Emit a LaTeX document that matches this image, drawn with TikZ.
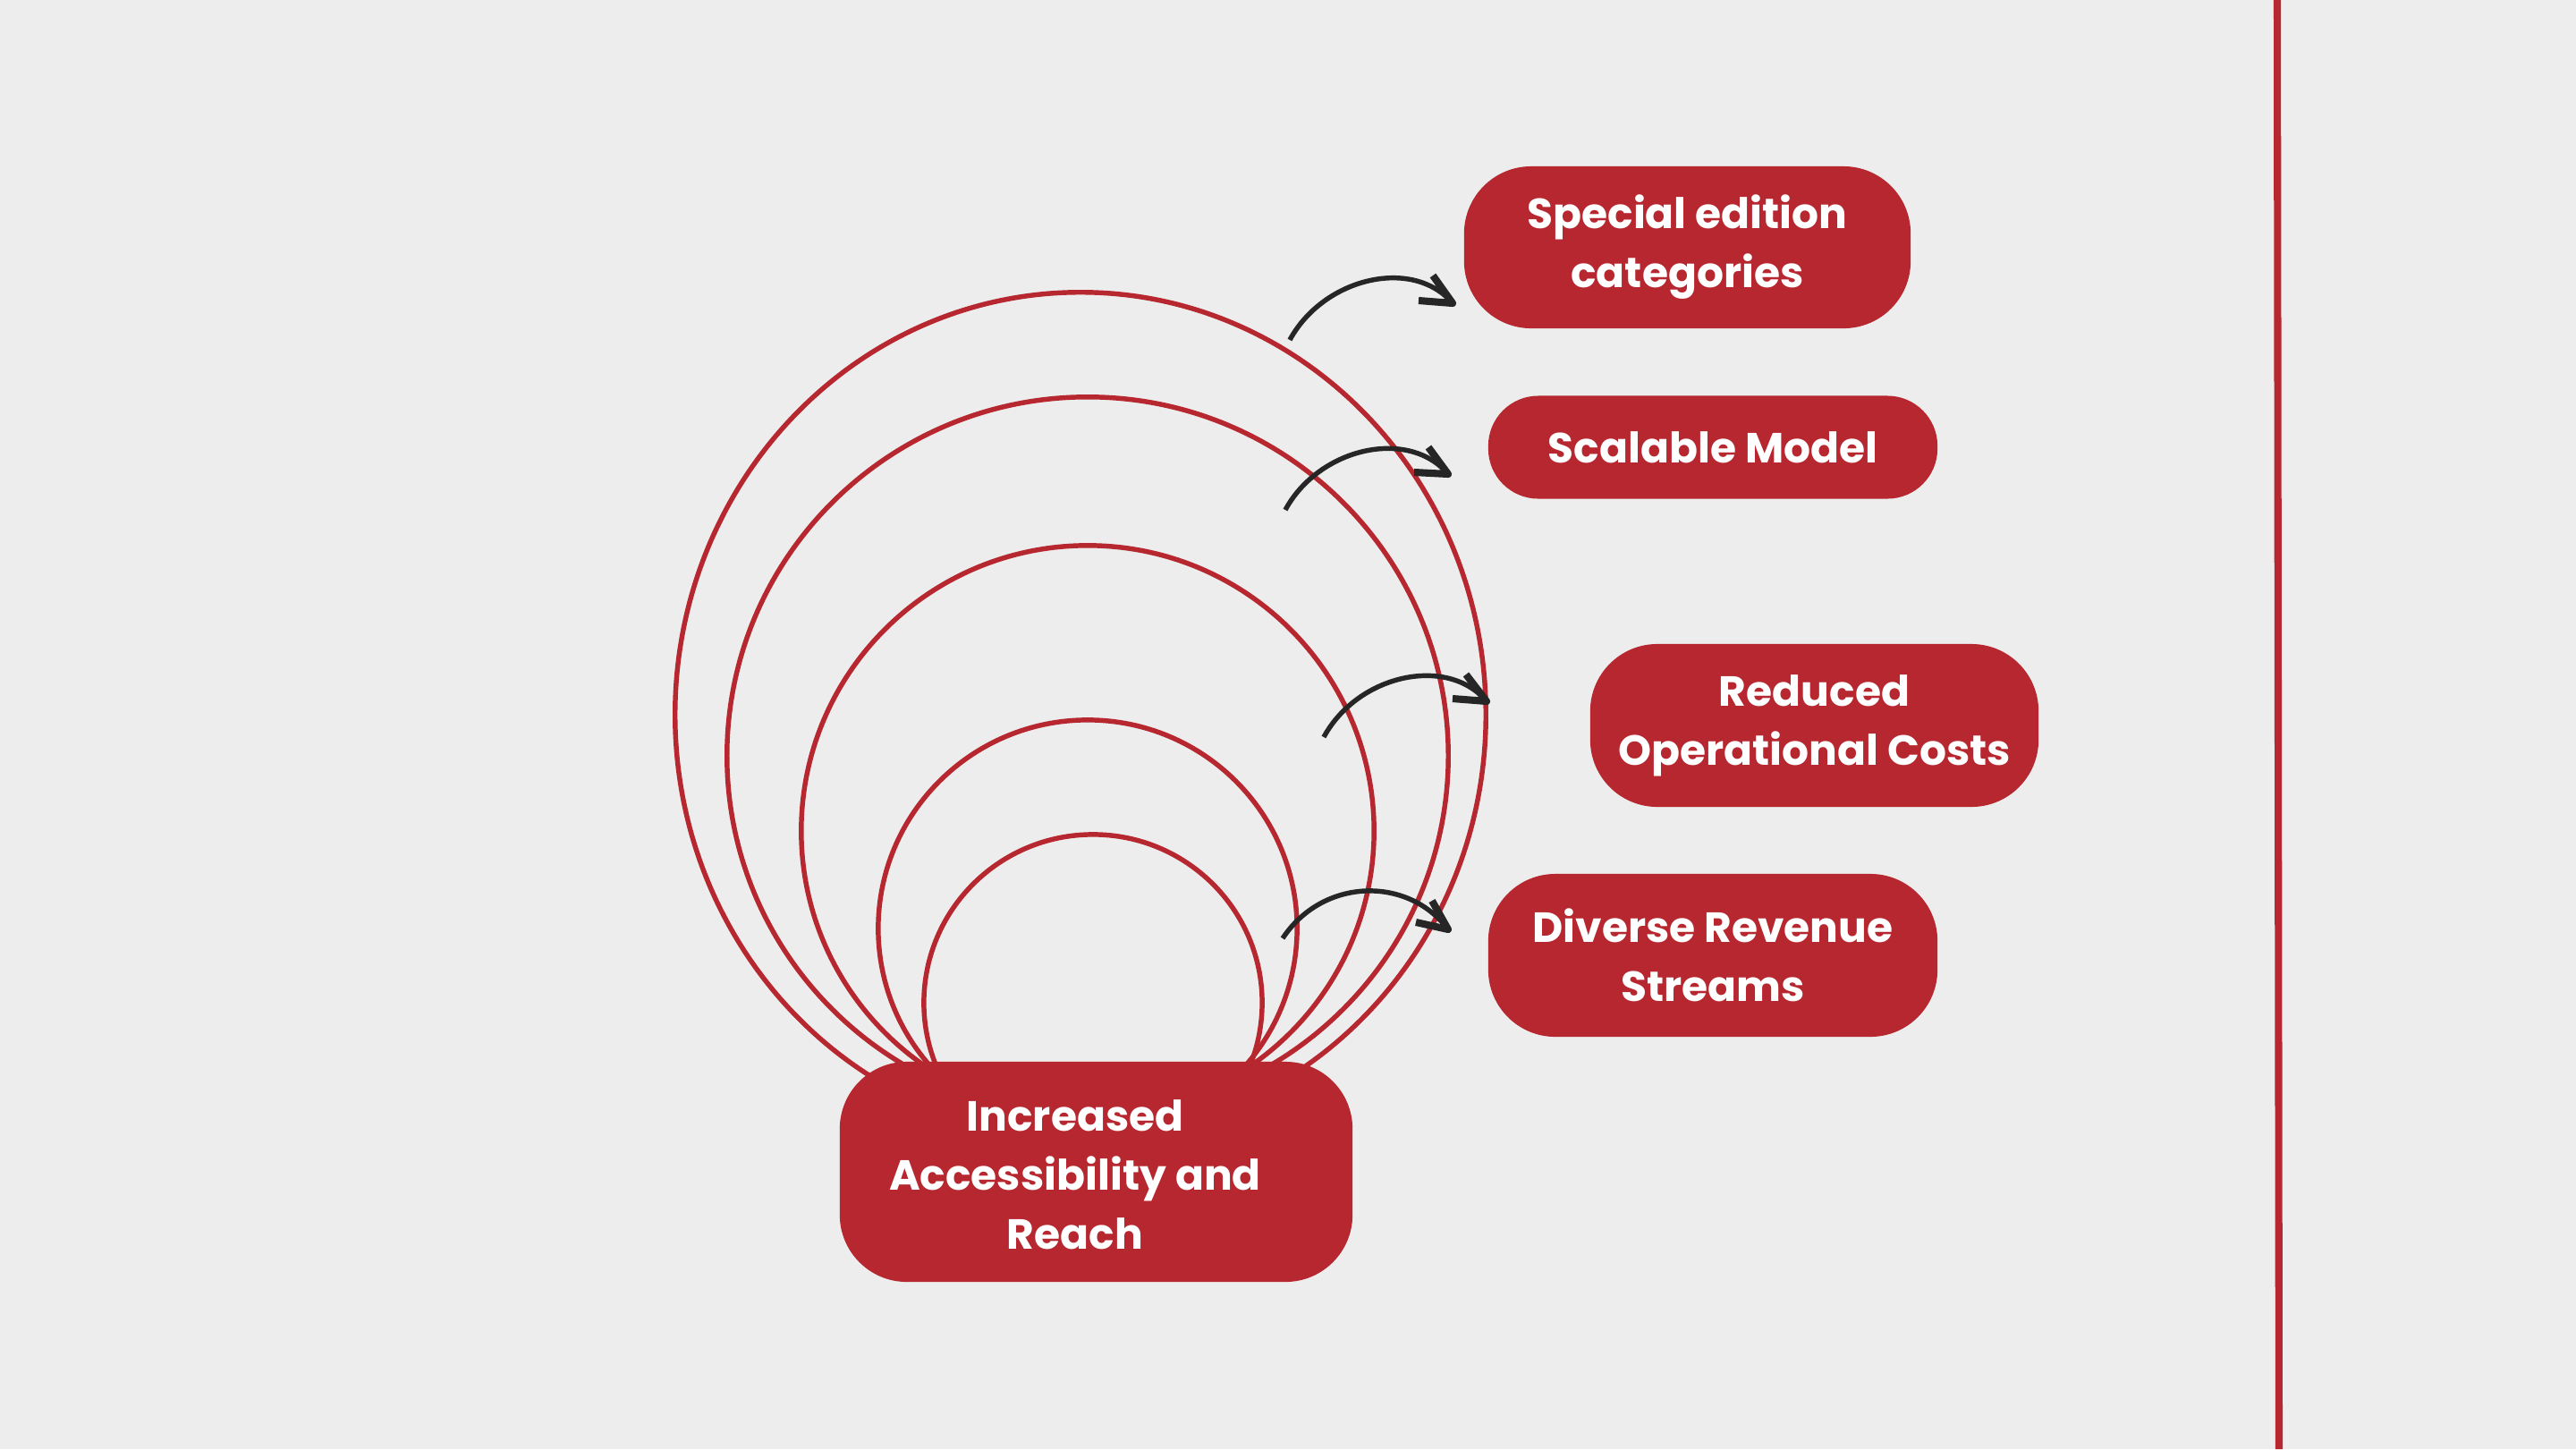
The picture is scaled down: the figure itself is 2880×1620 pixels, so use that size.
\documentclass[tikz,border=0pt]{standalone}
\usepackage{fontspec}
\usetikzlibrary{calc}
\setmainfont{Poppins}
\definecolor{bg}{RGB}{237,237,237}
\definecolor{brand}{RGB}{183,39,47}
\definecolor{ink}{RGB}{38,38,38}
\tikzset{
  ring/.style={draw=brand, line width=1.55pt},
  box/.style={fill=brand, rounded corners=0.75cm, inner sep=0pt, text=white, align=center,
    font=\bfseries\fontsize{13.4pt}{18.8pt}\selectfont},
  boxtext/.style={inner sep=0pt, text=white, align=center,
    font=\bfseries\fontsize{13.4pt}{18.8pt}\selectfont},
  arrowline/.style={draw=ink, line width=1.55pt},
  barb/.style={draw=ink, line width=2.3pt, line join=round},
}
\begin{document}
\begin{tikzpicture}[x=0.01cm,y=-0.01cm]
\fill[bg] (0,0) rectangle (2880,1620);
\useasboundingbox (0,0) rectangle (2880,1620);

% vertical rule
\coordinate (vtop) at (2546,0);
\coordinate (vbot) at (2548,1620);
\draw[brand, line width=2.3pt] (vtop) -- (vbot);

% rings
\draw[ring] (1208,799) ellipse [x radius=4.53cm, y radius=4.72cm];
\draw[ring] (1216,845) ellipse [x radius=4.03cm, y radius=4.01cm];
\draw[ring] (1216,929) ellipse [x radius=3.20cm, y radius=3.19cm];
\draw[ring] (1216,1038) ellipse [x radius=2.34cm, y radius=2.33cm];
\draw[ring] (1222,1121) ellipse [x radius=1.89cm, y radius=1.88cm];

% boxes
\node[box, minimum width=5.73cm, minimum height=2.46cm] (inc) at (1225.5,1310) {};
\node[boxtext] (inctext) at (1202,1313) {Increased\\Accessibility and\\Reach};
\node[box, minimum width=4.99cm, minimum height=1.81cm] (special) at (1886.5,276.5) {Special edition\\categories};
\node[box, rounded corners=0.56cm, minimum width=5.02cm, minimum height=1.15cm] (scal) at (1915,500) {Scalable Model};
\node[box, minimum width=5.01cm, minimum height=1.82cm] (red) at (2028.5,811) {Reduced\\Operational Costs};
\node[box, minimum width=5.02cm, minimum height=1.82cm] (div) at (1915,1068) {Diverse Revenue\\Streams};

% arrows
\coordinate (s1) at (1442,380); \coordinate (t1) at (1624,339);
\coordinate (s2) at (1437,570); \coordinate (t2) at (1619,530);
\coordinate (s3) at (1480,824); \coordinate (t3) at (1662,784);
\coordinate (s4) at (1434,1049); \coordinate (t4) at (1619,1039);

\draw[arrowline] (s1) .. controls ($(s1)+(38,-70)$) and ($(t1)+(-44,-52)$) .. (t1);
\draw[arrowline] (s2) .. controls ($(s2)+(38,-70)$) and ($(t2)+(-44,-52)$) .. (t2);
\draw[arrowline] (s3) .. controls ($(s3)+(38,-70)$) and ($(t3)+(-44,-52)$) .. (t3);
\draw[arrowline] (s4) .. controls ($(s4)+(45,-68)$) and ($(t4)+(-45,-60)$) .. (t4);

\draw[barb] ($(t1)+(-22,-31)$) -- (t1) -- ($(t1)+(-38,-3)$);
\draw[barb] ($(t2)+(-22,-30)$) -- (t2) -- ($(t2)+(-38,-2)$);
\draw[barb] ($(t3)+(-23,-30)$) -- (t3) -- ($(t3)+(-38,-3)$);
\draw[barb] ($(t4)+(-18,-32)$) -- (t4) -- ($(t4)+(-36,-8)$);
\end{tikzpicture}
\end{document}
